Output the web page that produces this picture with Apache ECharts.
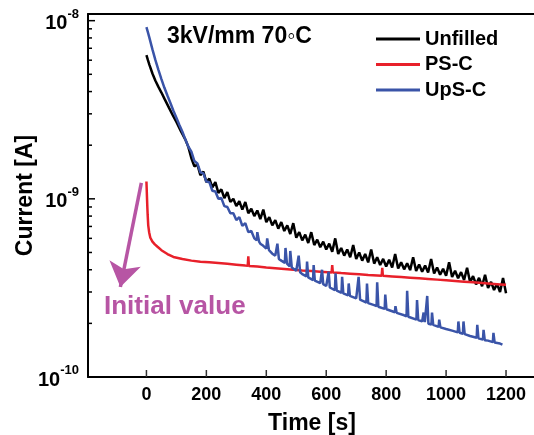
<!DOCTYPE html>
<html>
<head>
<meta charset="utf-8">
<script src="https://cdn.jsdelivr.net/npm/echarts@6/dist/echarts.min.js"></script>
<style>html,body{margin:0;padding:0;background:#fff}#c{width:534px;height:435px}#err{position:absolute;left:100px;top:100px;font:12px sans-serif;color:#c00;width:400px}</style>
</head>
<body>
<div id="c"></div>
<div id="err"></div>
<script>
const timeTicks = [0, 200, 400, 600, 800, 1000, 1200];
const majorTicks = [1e-10, 1e-9, 1e-8];
const minorTicks = [2e-10,3e-10,4e-10,5e-10,6e-10,7e-10,8e-10,9e-10,2e-9,3e-9,4e-9,5e-9,6e-9,7e-9,8e-9,9e-9];
const seriesNames = ['Unfilled', 'PS-C', 'UpS-C'];

const unfilled = [[0,64e-10],[5,60e-10],[10,56.5e-10],[20,50.5e-10],[30,46e-10],[40,42.5e-10],[50,39.5e-10],[60,36.5e-10],[75,32.5e-10],[90,29e-10],[100,27e-10],[115,24e-10],[130,21.5e-10],[140,19.5e-10],
[150,16.9e-10],[160,15.2e-10],[170,15.6e-10],[180,13.6e-10],[190,14.2e-10],[200,12.4e-10],[210,13.0e-10],[220,11.6e-10],[230,12.4e-10],[240,10.8e-10],[250,11.3e-10],[260,10.1e-10],[270,10.9e-10],[280,9.6e-10],[290,10.0e-10],[300,9.1e-10],[310,9.7e-10],[320,8.7e-10],[330,9.6e-10],[340,8.3e-10],[350,8.8e-10],[360,8.0e-10],[370,8.6e-10],[380,7.7e-10],[390,8.7e-10],[400,7.4e-10],[410,7.9e-10],[420,7.1e-10],[430,7.6e-10],[440,6.8e-10],[450,7.4e-10],[460,6.6e-10],[470,7.1e-10],[480,6.35e-10],[490,7.3e-10],[500,6.05e-10],[510,6.5e-10],[520,5.85e-10],[530,6.3e-10],[540,5.65e-10],[550,6.5e-10],[560,5.5e-10],[570,5.9e-10],[580,5.35e-10],[590,5.75e-10],[600,5.2e-10],[610,5.6e-10],[620,5.05e-10],[630,6.0e-10],[640,4.9e-10],[650,5.3e-10],[660,4.8e-10],[670,5.2e-10],[680,4.7e-10],[690,5.5e-10],[700,4.6e-10],[710,5.0e-10],[720,4.5e-10],[730,4.9e-10],[740,4.4e-10],[750,5.2e-10],[760,4.33e-10],[770,4.7e-10],[780,4.25e-10],[790,4.6e-10],[800,4.17e-10],[810,4.55e-10],[820,4.12e-10],[830,4.9e-10],[840,4.06e-10],[850,4.4e-10],[860,4.02e-10],[870,4.35e-10],[880,3.98e-10],[890,4.7e-10],[900,3.94e-10],[910,4.28e-10],[920,3.9e-10],[930,4.22e-10],[940,3.86e-10],[950,4.6e-10],[960,3.81e-10],[970,4.12e-10],[980,3.75e-10],[990,4.05e-10],[1000,3.7e-10],[1010,4.4e-10],[1020,3.64e-10],[1030,3.95e-10],[1040,3.58e-10],[1050,3.88e-10],[1060,3.5e-10],[1070,4.1e-10],[1080,3.41e-10],[1090,3.68e-10],[1100,3.31e-10],[1110,3.6e-10],[1120,3.23e-10],[1130,3.75e-10],[1140,3.16e-10],[1150,3.42e-10],[1160,3.08e-10],[1170,3.33e-10],[1180,3.0e-10],[1190,3.6e-10],[1200,2.95e-10]];

const psc = [[0,12.5e-10],[1,11.2e-10],[2,10e-10],[3,9e-10],[4,8.2e-10],[6,7.1e-10],[9,6.5e-10],[13,6.05e-10],[20,5.75e-10],[28,5.55e-10],[36,5.4e-10],[50,5.15e-10],[70,4.9e-10],[90,4.72e-10],[120,4.6e-10],[150,4.5e-10],[180,4.44e-10],[210,4.4e-10],[240,4.36e-10],[270,4.32e-10],[300,4.27e-10],[330,4.22e-10],[338,4.21e-10],[340,4.75e-10],[342,4.2e-10],[370,4.17e-10],[400,4.12e-10],[430,4.08e-10],[460,4.04e-10],[490,4.0e-10],[520,3.96e-10],[550,3.93e-10],[580,3.9e-10],[618,3.86e-10],[620,4.25e-10],[622,3.86e-10],[650,3.83e-10],[680,3.8e-10],[710,3.77e-10],[740,3.74e-10],[785,3.7e-10],[787,4.1e-10],[789,3.7e-10],[820,3.67e-10],[850,3.64e-10],[880,3.61e-10],[910,3.58e-10],[940,3.55e-10],[970,3.52e-10],[1000,3.49e-10],[1030,3.46e-10],[1060,3.43e-10],[1090,3.4e-10],[1120,3.37e-10],[1150,3.34e-10],[1180,3.31e-10],[1200,3.29e-10]];

const upsc = [[0,92e-10],[5,86e-10],[10,80e-10],[20,69e-10],[30,60e-10],[40,53e-10],[50,47e-10],[60,42e-10],[70,38e-10],[80,34.5e-10],[90,31.2e-10],[100,28.5e-10],[110,26e-10],[120,23.8e-10],[130,21.5e-10],[140,19.6e-10],[150,18.4e-10],[160,16.3e-10],[170,15.8e-10],[180,14.1e-10],[190,13.9e-10],[200,12.5e-10],[210,12.4e-10],[220,11.1e-10],[230,11.0e-10],[240,10.0e-10],[250,10.1e-10],[260,9.1e-10],[270,9.0e-10],[280,8.3e-10],[290,8.3e-10],[300,7.6e-10],[310,7.9e-10],[320,7.05e-10],[330,7.3e-10],[340,6.5e-10],[350,6.6e-10],[360,6.0e-10],[368,5.85e-10],[370,6.5e-10],[374,6.5e-10],[376,5.75e-10],[380,5.6e-10],[390,5.45e-10],[400,5.25e-10],[403,6.0e-10],[407,6.0e-10],[409,5.15e-10],[420,4.92e-10],[430,4.8e-10],[436,4.72e-10],[437,5.6e-10],[441,5.6e-10],[442,4.6e-10],[450,4.5e-10],[462,4.37e-10],[464,5.3e-10],[468,5.3e-10],[469,4.33e-10],[478,4.18e-10],[480,5.1e-10],[484,5.1e-10],[485,4.12e-10],[490,4.05e-10],[500,3.95e-10],[506,3.9e-10],[508,4.8e-10],[512,4.8e-10],[513,3.87e-10],[520,3.78e-10],[534,3.67e-10],[536,4.45e-10],[539,4.45e-10],[540,3.62e-10],[556,3.5e-10],[558,4.25e-10],[561,4.25e-10],[562,3.47e-10],[580,3.36e-10],[584,3.33e-10],[586,4.0e-10],[589,4.0e-10],[590,3.32e-10],[600,3.24e-10],[606,3.2e-10],[608,3.9e-10],[611,3.9e-10],[612,3.18e-10],[629,3.07e-10],[631,3.82e-10],[634,3.82e-10],[635,3.05e-10],[651,2.97e-10],[653,3.65e-10],[656,3.65e-10],[657,2.95e-10],[673,2.87e-10],[675,3.35e-10],[678,3.35e-10],[679,2.85e-10],[700,2.76e-10],[706,2.74e-10],[708,3.65e-10],[712,3.65e-10],[713,2.72e-10],[720,2.68e-10],[734,2.62e-10],[736,3.35e-10],[739,3.35e-10],[740,2.6e-10],[760,2.53e-10],[768,2.5e-10],[770,3.4e-10],[773,3.4e-10],[774,2.48e-10],[780,2.46e-10],[795,2.41e-10],[797,2.9e-10],[800,2.9e-10],[801,2.4e-10],[820,2.34e-10],[829,2.31e-10],[831,2.5e-10],[834,2.5e-10],[835,2.29e-10],[860,2.22e-10],[868,2.19e-10],[870,3.05e-10],[873,3.05e-10],[874,2.18e-10],[880,2.16e-10],[901,2.1e-10],[903,2.7e-10],[906,2.7e-10],[907,2.09e-10],[920,2.05e-10],[923,2.04e-10],[925,2.3e-10],[928,2.3e-10],[929,2.03e-10],[935,2.01e-10],[937,2.85e-10],[940,2.85e-10],[941,1.99e-10],[951,1.97e-10],[953,2.3e-10],[956,2.3e-10],[957,1.96e-10],[975,1.91e-10],[977,2.1e-10],[980,2.1e-10],[981,1.9e-10],[1000,1.86e-10],[1020,1.82e-10],[1039,1.78e-10],[1041,2.05e-10],[1044,2.05e-10],[1045,1.77e-10],[1056,1.75e-10],[1058,2.05e-10],[1061,2.05e-10],[1062,1.74e-10],[1080,1.7e-10],[1102,1.66e-10],[1104,1.96e-10],[1107,1.96e-10],[1108,1.65e-10],[1123,1.62e-10],[1125,1.84e-10],[1128,1.84e-10],[1129,1.61e-10],[1140,1.6e-10],[1156,1.57e-10],[1158,1.77e-10],[1161,1.77e-10],[1162,1.56e-10],[1180,1.54e-10],[1188,1.52e-10]];

// annotation arrow endpoints (data coordinates)
const arrowFrom = [-17, 1.23e-9];
const arrowTo = [-87, 3.2e-10];

const FONT = 'Liberation Sans, Arial, Helvetica, sans-serif';
const PURPLE = '#b755a4';
const COLORS = ['#000000', '#e8202a', '#3a54a8'];

// tick marks drawn through the axes' own scales
function yTickRenderer(len) {
  return function (params, api) {
    const y = api.coord([0, api.value(1)])[1];
    const x0 = params.coordSys.x;
    return {type: 'line', shape: {x1: x0, y1: y, x2: x0 + len, y2: y}, style: {stroke: '#000', lineWidth: 1.5}};
  };
}
function xTickRenderer(len) {
  return function (params, api) {
    const x = api.coord([api.value(0), 1e-9])[0];
    const yb = params.coordSys.y + params.coordSys.height;
    return {type: 'line', shape: {x1: x, y1: yb, x2: x, y2: yb - len}, style: {stroke: '#333', lineWidth: 1.5}};
  };
}

const chart = echarts.init(document.getElementById('c'), null, {renderer: 'canvas'});

try {
chart.setOption({
  animation: false,
  backgroundColor: '#fff',
  grid: {left: 88, right: -2, top: 14, bottom: 58, show: false, containLabel: false, outerBoundsMode: 'none'},
  legend: {
    data: seriesNames.map(function (n, i) { return {name: n, icon: 'rect', itemStyle: {color: COLORS[i]}}; }),
    orient: 'vertical', left: 376, top: 29, padding: 0,
    itemWidth: 44, itemHeight: 3, itemGap: 5.5,
    textStyle: {fontSize: 20, fontWeight: 'bold', color: '#000', fontFamily: FONT, lineHeight: 20},
    selectedMode: false
  },
  xAxis: [{
    type: 'value', min: -195, max: 1300, position: 'bottom',
    name: 'Time [s]', nameLocation: 'middle', nameGap: 35,
    nameTextStyle: {fontSize: 23, fontWeight: 'bold', color: '#000', fontFamily: FONT},
    axisLine: {show: true, lineStyle: {color: '#000', width: 2}},
    axisTick: {show: false},
    axisLabel: {customValues: timeTicks, fontSize: 18, fontWeight: 'bold', color: '#000', fontFamily: FONT, margin: 9,
      formatter: function (v) { return String(Math.round(v)); }},
    splitLine: {show: false}
  }, {
    // frame line along the top; its scale is independent of the data
    type: 'value', min: 1, max: 2, position: 'top',
    axisLine: {show: true, lineStyle: {color: '#000', width: 2}},
    axisTick: {show: false}, axisLabel: {show: false}, splitLine: {show: false}
  }],
  yAxis: [{
    type: 'log', logBase: 10, min: 1e-10, max: 1.09e-8,
    splitLine: {show: false}, minorTick: {show: false}, minorSplitLine: {show: false},
    position: 'left',
    name: 'Current [A]', nameLocation: 'middle', nameGap: 51, nameRotate: 90, nameMoveOverlap: false,
    nameTextStyle: {fontSize: 23, fontWeight: 'bold', color: '#000', fontFamily: FONT},
    axisLine: {show: true, onZeroAxisIndex: 1, lineStyle: {color: '#000', width: 2}},
    axisTick: {show: false},
    axisLabel: {
      margin: 9, color: '#000',
      formatter: function (v) { return '{b|10}{s|' + Math.round(Math.log10(v)) + '}'; },
      rich: {
        b: {fontSize: 20, fontWeight: 'bold', fontFamily: FONT, color: '#000', lineHeight: 26, verticalAlign: 'bottom'},
        s: {fontSize: 13, fontWeight: 'bold', fontFamily: FONT, color: '#000', lineHeight: 13, verticalAlign: 'top'}
      }
    }
  }],
  series: [{
    name: 'Unfilled', type: 'line', data: unfilled, xAxisIndex: 0, yAxisIndex: 0,
    showSymbol: false, symbol: 'none', lineStyle: {color: COLORS[0], width: 2.5}, itemStyle: {color: COLORS[0]},
    silent: true,
    markLine: {
      silent: true, symbol: ['none', 'arrow'], symbolSize: 24,
      lineStyle: {color: PURPLE, width: 3.5, type: 'solid'},
      itemStyle: {color: PURPLE},
      label: {show: false},
      data: [[{coord: arrowFrom}, {coord: arrowTo}]]
    }
  }, {
    name: 'PS-C', type: 'line', data: psc, xAxisIndex: 0, yAxisIndex: 0,
    showSymbol: false, symbol: 'none', lineStyle: {color: COLORS[1], width: 2.5}, itemStyle: {color: COLORS[1]},
    silent: true
  }, {
    name: 'UpS-C', type: 'line', data: upsc, xAxisIndex: 0, yAxisIndex: 0,
    showSymbol: false, symbol: 'none', lineStyle: {color: COLORS[2], width: 2.5}, itemStyle: {color: COLORS[2]},
    silent: true
  }, {
    name: 'yMajorTicks', type: 'custom', xAxisIndex: 0, yAxisIndex: 0, silent: true, clip: false, z: 5,
    encode: {x: 0, y: 1}, data: majorTicks.map(function (v) { return [0, v]; }), renderItem: yTickRenderer(7)
  }, {
    name: 'yMinorTicks', type: 'custom', xAxisIndex: 0, yAxisIndex: 0, silent: true, clip: false, z: 5,
    encode: {x: 0, y: 1}, data: minorTicks.map(function (v) { return [0, v]; }), renderItem: yTickRenderer(4)
  }, {
    name: 'xTicks', type: 'custom', xAxisIndex: 0, yAxisIndex: 0, silent: true, clip: false, z: 5,
    encode: {x: 0, y: 1}, data: timeTicks.map(function (t) { return [t, 1e-9]; }), renderItem: xTickRenderer(7)
  }],
  graphic: [{
    type: 'text', left: 167, top: 25,
    style: {text: '3kV/mm 70\u25E6C', font: 'bold 23px ' + FONT, fill: '#000'}
  }, {
    type: 'text', left: 104, top: 294,
    style: {text: 'Initial value', font: 'bold 26px ' + FONT, fill: PURPLE}
  }]
});
} catch (e) { document.getElementById('err').textContent = String(e && e.stack || e); }
</script>
</body>
</html>
